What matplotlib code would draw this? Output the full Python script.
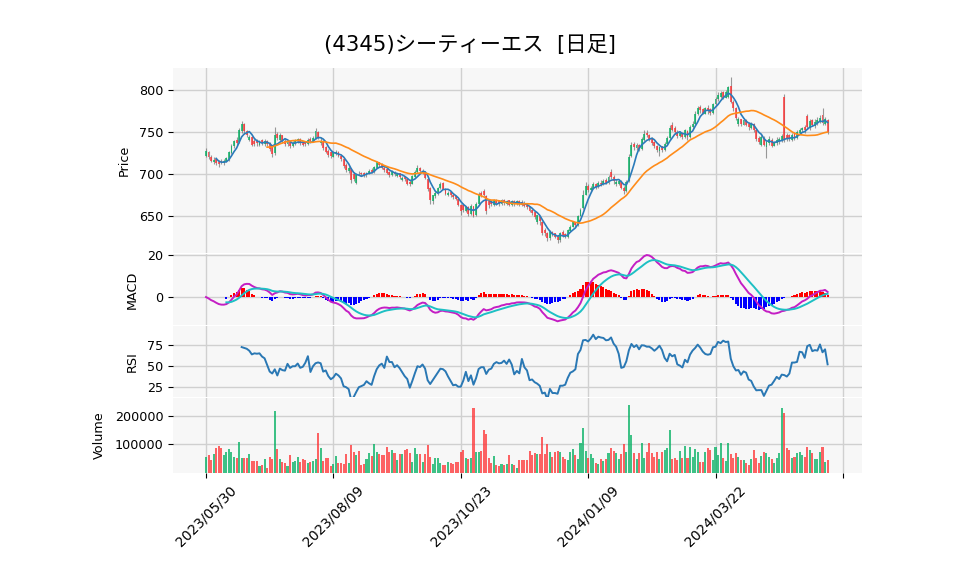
import matplotlib
matplotlib.use("Agg")
import matplotlib.pyplot as plt
import numpy as np
import pandas as pd

plt.rcParams['font.family'] = ['DejaVu Sans', 'Noto Sans CJK JP']

TITLE = "(4345)シーティーエス  [日足]"

OPENS = [
    722, 727, 721, 714, 718, 715, 716, 713, 715, 718, 725, 733, 741, 738, 751, 760, 751, 741, 744, 740,
    740, 735, 741, 736, 740, 737, 733, 725, 748, 741, 746, 740, 736, 739, 733, 737, 739, 742, 738, 739,
    736, 742, 739, 743, 750, 737, 740, 732, 728, 726, 721, 725, 727, 722, 718, 711, 704, 707, 700, 690,
    702, 702, 701, 699, 701, 705, 703, 708, 714, 712, 708, 706, 703, 699, 703, 698, 701, 693, 697, 695,
    691, 689, 697, 703, 708, 701, 703, 695, 684, 668, 674, 678, 684, 690, 683, 676, 679, 676, 674, 671,
    664, 664, 657, 661, 653, 662, 652, 665, 678, 680, 674, 668, 668, 664, 670, 669, 665, 670, 665, 669,
    664, 668, 665, 668, 667, 666, 664, 661, 658, 655, 644, 650, 643, 634, 631, 624, 632, 630, 626, 622,
    632, 629, 626, 633, 638, 643, 640, 651, 660, 676, 686, 681, 683, 689, 685, 690, 688, 693, 690, 703,
    697, 688, 689, 692, 684, 680, 692, 722, 736, 731, 735, 730, 741, 749, 747, 742, 738, 734, 728, 733,
    729, 736, 743, 759, 755, 750, 745, 749, 744, 751, 744, 756, 760, 771, 780, 777, 772, 779, 777, 773,
    783, 789, 792, 797, 791, 792, 805, 786, 778, 760, 765, 759, 764, 760, 755, 760, 752, 743, 735, 743,
    732, 737, 741, 734, 737, 739, 740, 792, 747, 746, 741, 748, 743, 749, 752, 756, 769, 755, 764, 757,
    761, 763, 770, 760, 764,
]
HIGHS = [
    731, 728, 723, 720, 719, 717, 718, 718, 720, 728, 736, 741, 744, 755, 763, 761, 753, 746, 745, 742,
    742, 741, 742, 742, 741, 738, 735, 756, 750, 749, 747, 742, 741, 740, 739, 742, 743, 743, 739, 740,
    743, 744, 745, 755, 751, 744, 741, 734, 730, 728, 728, 729, 728, 724, 720, 713, 710, 708, 703, 701,
    704, 703, 703, 703, 706, 707, 710, 716, 715, 713, 710, 707, 704, 705, 704, 702, 702, 698, 698, 696,
    693, 699, 705, 711, 709, 706, 704, 697, 685, 676, 680, 685, 691, 691, 684, 680, 680, 677, 676, 672,
    665, 666, 663, 662, 665, 663, 667, 679, 680, 682, 675, 670, 670, 671, 671, 670, 671, 671, 670, 670,
    670, 669, 670, 669, 669, 668, 666, 662, 659, 656, 652, 651, 645, 636, 632, 634, 633, 631, 628, 632,
    634, 630, 635, 640, 645, 644, 652, 660, 681, 691, 688, 686, 691, 690, 692, 693, 694, 696, 699, 706,
    699, 694, 694, 693, 686, 693, 724, 738, 738, 737, 736, 744, 752, 753, 748, 744, 740, 735, 734, 734,
    738, 745, 758, 762, 757, 752, 751, 750, 754, 752, 758, 763, 775, 781, 782, 779, 780, 782, 779, 785,
    792, 797, 799, 799, 800, 805, 815, 788, 780, 768, 766, 766, 765, 762, 762, 761, 754, 745, 746, 745,
    740, 745, 743, 740, 744, 744, 748, 795, 749, 748, 749, 750, 752, 755, 756, 758, 772, 765, 766, 765,
    768, 770, 778, 768, 766,
]
LOWS = [
    720, 718, 714, 712, 711, 709, 712, 711, 714, 716, 724, 731, 735, 737, 749, 748, 744, 739, 733, 733,
    734, 734, 735, 734, 734, 728, 720, 723, 741, 740, 737, 734, 734, 731, 732, 735, 737, 735, 733, 733,
    735, 738, 738, 742, 742, 735, 729, 725, 721, 719, 720, 723, 720, 716, 708, 703, 702, 690, 692, 688,
    699, 698, 697, 697, 700, 701, 702, 707, 709, 706, 703, 700, 697, 698, 698, 697, 695, 692, 692, 687,
    686, 688, 696, 702, 702, 700, 694, 680, 665, 665, 672, 676, 683, 682, 675, 674, 673, 671, 669, 662,
    652, 655, 655, 651, 652, 649, 651, 664, 673, 674, 653, 660, 662, 663, 664, 663, 664, 664, 664, 662,
    663, 663, 664, 663, 662, 661, 659, 655, 652, 647, 641, 640, 628, 627, 621, 622, 627, 624, 618, 620,
    626, 624, 625, 632, 637, 637, 639, 650, 659, 675, 679, 679, 682, 683, 684, 686, 687, 688, 689, 695,
    689, 686, 687, 682, 677, 679, 691, 720, 729, 729, 728, 729, 740, 744, 739, 735, 731, 727, 722, 726,
    728, 735, 742, 751, 748, 743, 744, 742, 743, 741, 743, 754, 759, 770, 773, 771, 771, 772, 770, 772,
    782, 787, 790, 789, 790, 791, 784, 775, 764, 757, 757, 758, 757, 753, 754, 750, 740, 736, 733, 733,
    719, 735, 732, 733, 735, 736, 738, 738, 740, 740, 740, 741, 742, 748, 750, 749, 754, 753, 757, 755,
    759, 761, 758, 758, 748,
]
CLOSES = [
    728, 720, 716, 717, 713, 712, 714, 716, 719, 726, 734, 739, 737, 752, 760, 751, 746, 744, 735, 736,
    737, 740, 737, 740, 736, 730, 724, 746, 743, 747, 739, 736, 739, 733, 737, 740, 742, 737, 735, 736,
    741, 739, 743, 751, 744, 740, 731, 727, 723, 722, 726, 727, 722, 718, 710, 705, 707, 693, 695, 699,
    701, 700, 699, 702, 704, 703, 709, 714, 711, 708, 705, 702, 699, 703, 700, 701, 697, 696, 694, 689,
    688, 698, 703, 708, 704, 704, 696, 682, 669, 675, 678, 684, 689, 683, 677, 678, 675, 673, 671, 664,
    656, 658, 661, 653, 663, 651, 665, 677, 675, 676, 656, 664, 665, 670, 666, 665, 669, 666, 668, 664,
    668, 665, 668, 665, 664, 663, 661, 657, 654, 649, 652, 645, 631, 630, 624, 632, 629, 626, 622, 630,
    628, 627, 634, 638, 643, 640, 650, 658, 676, 686, 681, 684, 689, 685, 690, 688, 692, 690, 697, 697,
    692, 691, 692, 684, 680, 691, 721, 735, 732, 735, 730, 742, 748, 746, 741, 737, 733, 729, 732, 729,
    736, 743, 755, 753, 750, 745, 749, 744, 752, 744, 756, 760, 772, 778, 776, 773, 778, 775, 773, 783,
    789, 794, 796, 791, 797, 803, 786, 778, 767, 765, 760, 764, 759, 756, 760, 753, 742, 738, 744, 735,
    738, 742, 734, 738, 741, 742, 745, 741, 743, 742, 747, 743, 750, 753, 755, 752, 756, 763, 759, 762,
    764, 767, 761, 765, 750,
]
VOLUMES_K = [
    56, 63, 45, 66, 88, 94, 87, 63, 74, 82, 74, 57, 53, 107, 51, 51, 53, 66, 43, 41,
    43, 24, 28, 49, 16, 56, 48, 216, 84, 48, 39, 34, 24, 63, 38, 43, 55, 38, 48, 46,
    34, 39, 41, 48, 139, 87, 42, 51, 51, 24, 30, 58, 34, 36, 33, 66, 34, 98, 74, 64,
    75, 28, 31, 48, 71, 59, 101, 74, 66, 62, 63, 92, 73, 80, 69, 45, 66, 66, 79, 84,
    69, 38, 87, 66, 66, 38, 66, 98, 57, 33, 53, 53, 34, 28, 28, 38, 36, 33, 38, 40,
    74, 80, 51, 48, 51, 225, 74, 74, 75, 150, 136, 51, 34, 59, 28, 26, 31, 28, 31, 63,
    31, 28, 16, 45, 45, 45, 45, 77, 63, 69, 66, 66, 124, 66, 101, 74, 57, 74, 75, 73,
    55, 48, 45, 74, 82, 64, 48, 106, 157, 78, 53, 66, 51, 34, 31, 50, 43, 48, 69, 86,
    78, 69, 48, 66, 101, 74, 237, 132, 69, 48, 69, 106, 51, 74, 106, 69, 57, 72, 48, 74,
    80, 86, 150, 48, 51, 45, 78, 51, 94, 51, 92, 55, 85, 74, 39, 38, 74, 86, 80, 45,
    89, 63, 103, 51, 43, 103, 66, 51, 71, 57, 45, 45, 34, 28, 48, 80, 51, 34, 59, 74,
    69, 57, 48, 34, 51, 69, 225, 208, 86, 80, 51, 55, 69, 74, 63, 55, 92, 80, 69, 48,
    48, 74, 92, 39, 45,
]

TICK_POS = [0, 50, 100, 150, 200, 250]
TICK_LABELS = ["2023/05/30", "2023/08/09", "2023/10/23", "2024/01/09", "2024/03/22", ""]

UP = "#00b060"
DOWN = "#fe3032"

o = np.array(OPENS, dtype=float)
h = np.array(HIGHS, dtype=float)
l = np.array(LOWS, dtype=float)
c = np.array(CLOSES, dtype=float)
vol = np.array(VOLUMES_K, dtype=float) * 1000
x = np.arange(len(c))
up = c >= o
cols = np.where(up, UP, DOWN)

close = pd.Series(c)
ma5 = close.rolling(5).mean()
ma25 = close.rolling(25).mean()

ema12 = close.ewm(span=12, adjust=False).mean()
ema26 = close.ewm(span=26, adjust=False).mean()
macd = ema12 - ema26
signal = macd.ewm(span=9, adjust=False, min_periods=9).mean()
hist = macd - signal

diff = close.diff()
gain = diff.clip(lower=0).rolling(14).mean()
loss = (-diff.clip(upper=0)).rolling(14).mean()
rsi = 100 * gain / (gain + loss)

W, H = 958, 575
fig = plt.figure(figsize=(W / 100, H / 100), dpi=100)
FS = 9.2


def add_panel(top, bottom):
    ax = fig.add_axes([173 / W, 1 - bottom / H, (862 - 173) / W, (bottom - top) / H])
    ax.set_facecolor("#f7f7f7")
    for s in ax.spines.values():
        s.set_visible(False)
    ax.grid(True, color="#d0d0d0", linewidth=1.0)
    ax.set_axisbelow(True)
    ax.set_xlim(-12.95, 257.5)
    ax.set_xticks(TICK_POS)
    ax.tick_params(axis="y", labelsize=FS, length=3.5, width=0.8, direction="out")
    ax.tick_params(axis="x", length=0, labelbottom=False)
    return ax


ax_p = add_panel(68, 253)
ax_m = add_panel(254, 325)
ax_r = add_panel(326, 397)
ax_v = add_panel(398, 473)

# price
ax_p.vlines(x, l, h, color="#707070", linewidth=0.8, alpha=0.7, zorder=2)
ax_p.bar(x, np.maximum(np.abs(c - o), 0.4), bottom=np.minimum(o, c), width=0.75,
         color=cols, alpha=0.75, zorder=3)
ax_p.plot(x, ma5, color="#2b7bba", linewidth=1.2, zorder=4)
ax_p.plot(x, ma25, color="#ff8c1a", linewidth=1.2, zorder=4)
ax_p.set_ylim(606.7, 826)
ax_p.set_yticks([650, 700, 750, 800])
ax_p.set_ylabel("Price", fontsize=FS, labelpad=6)

# macd
ax_m.bar(x, hist, width=0.8, color=np.where(hist >= 0, "red", "blue"), zorder=2)
ax_m.plot(x, macd, color="#c41ec4", linewidth=1.4, zorder=3)
ax_m.plot(x, signal, color="#1ec0c4", linewidth=1.4, zorder=3)
ax_m.set_ylim(-13.3, 20.5)
ax_m.set_yticks([0, 20])
ax_m.set_ylabel("MACD", fontsize=FS, labelpad=6)

# rsi
ax_r.plot(x, rsi, color="#2a78b4", linewidth=1.4)
ax_r.set_ylim(13.3, 98)
ax_r.set_yticks([25, 50, 75])
ax_r.set_ylabel("RSI", fontsize=FS, labelpad=6)

# volume
ax_v.bar(x, vol, width=0.8, color=cols, alpha=0.75)
ax_v.set_ylim(0, 261000)
ax_v.set_yticks([100000, 200000])
ax_v.set_yticklabels(["100000", "200000"])
ax_v.set_ylabel("Volume", fontsize=FS, labelpad=6)
ax_v.tick_params(axis="x", length=3.5, width=0.8, labelbottom=True, labelsize=10)
ax_v.set_xticklabels(TICK_LABELS, rotation=45)

fig.text(470 / W, 1 - 45 / H, TITLE, ha="center", va="center", fontsize=15.3)

fig.savefig("out.png", dpi=100)
